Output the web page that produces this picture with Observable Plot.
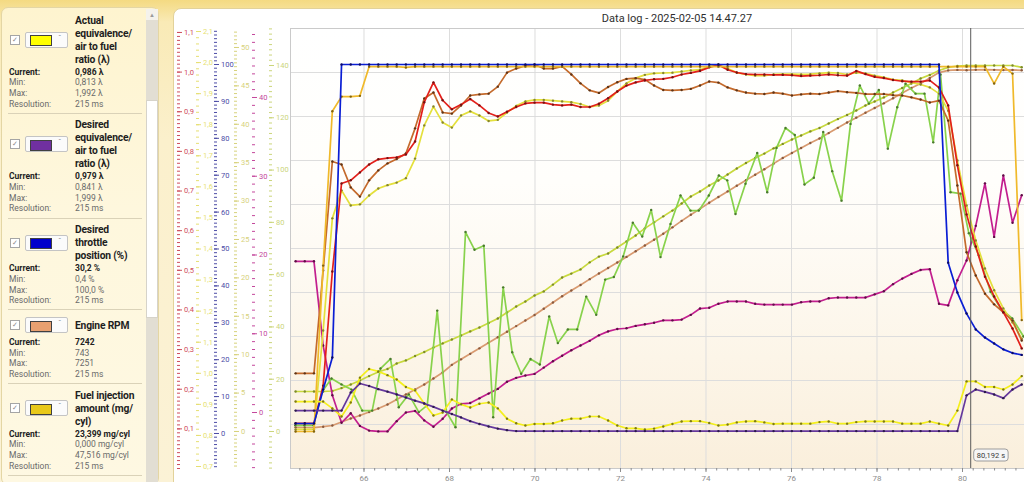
<!DOCTYPE html>
<html lang="en">
<head>
<meta charset="utf-8">
<title>Data log - 2025-02-05 14.47.27</title>
<script src="https://cdn.jsdelivr.net/npm/d3@7"></script>
<script src="https://cdn.jsdelivr.net/npm/@observablehq/plot@0.6"></script>
<style>
  html, body { margin: 0; padding: 0; }
  body {
    width: 1024px; height: 482px; overflow: hidden; position: relative;
    background: linear-gradient(to bottom, #F4DA82 0px, #F9EAB6 22px, #FBF0CC 140px, #FBF2D6 482px);
    font-family: Roboto, "Noto Sans", sans-serif;
  }
  #legendPanel {
    position: absolute; left: 1px; top: 7px; width: 158px; height: 478px; box-sizing: border-box;
    background: linear-gradient(to bottom, #FEF4CF 0px, #FEF7DD 200px, #FEF8E2 478px);
    border: 1px solid #E4D6A4; border-radius: 7px;
  }
  #legend { position: absolute; left: 0; top: 0; width: 160px; height: 482px; }
  .chk { position: absolute; left: 10px; width: 8px; height: 8px; border: 1px solid #A5A5A5; background: #fff;
         font-size: 7px; line-height: 8px; text-align: center; color: #8a8a8a; }
  .sw { position: absolute; left: 25px; width: 43px; height: 16px; box-sizing: border-box; border: 1px solid #C4C4C4;
        background: #FBFBFB; border-radius: 2px; }
  .swc { position: absolute; left: 4px; top: 2.5px; width: 20px; height: 9px; border: 1px solid #404040; }
  .dd { position: absolute; left: 32px; top: 1px; font-size: 8px; color: #8a8a8a; }
  .ttl { position: absolute; left: 75px; width: 80px; font-weight: 700; font-size: 10.3px; line-height: 13px;
         color: #1e1e1e; letter-spacing: -0.2px; white-space: nowrap; }
  .lab { position: absolute; left: 9px; font-size: 8.5px; line-height: 10.7px; color: #6a6a6a; white-space: nowrap; }
  .val { position: absolute; left: 75px; font-size: 8.5px; line-height: 10.7px; color: #6a6a6a; white-space: nowrap; }
  .lab.cur, .val.cur { font-weight: 700; color: #222; }
  .sep { position: absolute; left: 8px; width: 134px; height: 1px; background: #DAD2B8; }
  #scrollTrack { position: absolute; left: 146px; top: 9px; width: 12px; height: 473px; background: #E2DED3; }
  #scrollUp { position: absolute; left: 146px; top: 9px; width: 12px; height: 11px; background: #F4F2EC;
              font-size: 6px; line-height: 11px; text-align: center; color: #9a9a9a; }
  #scrollThumb { position: absolute; left: 146px; top: 100px; width: 12px; height: 218px; box-sizing: border-box;
                 background: #FFFFFF; border: 1px solid #D6D3CA; }
  #chartPanel {
    position: absolute; left: 173px; top: 8px; width: 880px; height: 500px; box-sizing: border-box;
    background: #FFFFFF; border: 1px solid #E2D29A; border-radius: 8px;
  }
  #plotBg {
    position: absolute; left: 290px; top: 28px; width: 734px; height: 440px;
    background: linear-gradient(to bottom, #FFFFFF 0%, #FFFEFB 35%, #FCF5E8 75%, #FAEFDC 100%);
  }
  #title {
    position: absolute; left: 290px; top: 12px; width: 774px; text-align: center;
    font-family: Roboto, "Noto Sans", sans-serif; font-size: 11px; line-height: 14px; color: #2e2e2e;
  }
  #layers { position: absolute; left: 0; top: 0; width: 1024px; height: 482px; }
</style>
</head>
<body>
<div id="legendPanel"></div>
<div id="legend"></div>
<div id="scrollTrack"></div>
<div id="scrollUp">&#9650;</div>
<div id="scrollThumb"></div>
<div id="chartPanel"></div>
<div id="plotBg"></div>
<div id="title">Data log - 2025-02-05 14.47.27</div>
<div id="layers"></div>

<script>
// ---------------- DATA ----------------
// Legend (channel list)
const legendNames = [
  "Actual\nequivalence/\nair to fuel\nratio (λ)",
  "Desired\nequivalence/\nair to fuel\nratio (λ)",
  "Desired\nthrottle\nposition (%)",
  "Engine RPM",
  "Fuel injection\namount (mg/\ncyl)"
];
const legendColors = ["#FFFF00", "#7030A0", "#0000CC", "#E8A070", "#E8C81A"];
const legendCurrent = ["0,986 λ", "0,979 λ", "30,2 %", "7242", "23,399 mg/cyl"];
const legendMin = ["0,813 λ", "0,841 λ", "0,4 %", "743", "0,000 mg/cyl"];
const legendMax = ["1,992 λ", "1,999 λ", "100,0 %", "7251", "47,516 mg/cyl"];
const legendResolution = ["215 ms", "215 ms", "215 ms", "215 ms", "215 ms"];

// Sample times (s), 215 ms resolution
const sampleTimes = [
  64.400, 64.615, 64.830, 65.045, 65.260, 65.475, 65.690, 65.905, 66.120, 66.335,
  66.550, 66.765, 66.980, 67.195, 67.410, 67.625, 67.840, 68.055, 68.270, 68.485,
  68.700, 68.915, 69.130, 69.345, 69.560, 69.775, 69.990, 70.205, 70.420, 70.635,
  70.850, 71.065, 71.280, 71.495, 71.710, 71.925, 72.140, 72.355, 72.570, 72.785,
  73.000, 73.215, 73.430, 73.645, 73.860, 74.075, 74.290, 74.505, 74.720, 74.935,
  75.150, 75.365, 75.580, 75.795, 76.010, 76.225, 76.440, 76.655, 76.870, 77.085,
  77.300, 77.515, 77.730, 77.945, 78.160, 78.375, 78.590, 78.805, 79.020, 79.235,
  79.450, 79.665, 79.880, 80.095, 80.310, 80.525, 80.740, 80.955, 81.170, 81.385
];

// Actual equivalence ratio (λ)
const actualLambda = [
  0.909, 0.909, 0.909, 0.909, 0.887, 0.861, 0.906, 0.986, 1.014, 1.006,
  0.994, 0.980, 0.956, 0.945, 0.903, 0.864, 0.874, 0.916, 0.900, 0.890,
  0.902, 0.906, 0.887, 0.854, 0.839, 0.832, 0.837, 0.837, 0.839, 0.848,
  0.854, 0.854, 0.861, 0.861, 0.848, 0.832, 0.823, 0.823, 0.819, 0.822,
  0.829, 0.837, 0.845, 0.846, 0.846, 0.840, 0.832, 0.835, 0.842, 0.845,
  0.846, 0.842, 0.837, 0.838, 0.838, 0.838, 0.838, 0.843, 0.845, 0.838,
  0.838, 0.843, 0.845, 0.845, 0.845, 0.845, 0.838, 0.838, 0.838, 0.845,
  0.838, 0.832, 0.880, 0.974, 0.974, 0.956, 0.956, 0.948, 0.964, 0.991
];

// Desired equivalence ratio (λ)
const desiredLambda = [
  0.880, 0.880, 0.880, 0.880, 0.880, 0.880, 0.938, 0.967, 0.959, 0.949,
  0.941, 0.932, 0.922, 0.912, 0.903, 0.892, 0.880, 0.869, 0.858, 0.846,
  0.837, 0.829, 0.822, 0.817, 0.814, 0.814, 0.814, 0.814, 0.814, 0.814,
  0.814, 0.814, 0.814, 0.814, 0.814, 0.814, 0.814, 0.814, 0.814, 0.814,
  0.814, 0.814, 0.814, 0.814, 0.814, 0.814, 0.814, 0.814, 0.814, 0.814,
  0.814, 0.814, 0.814, 0.814, 0.814, 0.814, 0.814, 0.814, 0.814, 0.814,
  0.814, 0.814, 0.814, 0.814, 0.814, 0.814, 0.814, 0.814, 0.814, 0.814,
  0.814, 0.814, 0.814, 0.929, 0.948, 0.940, 0.932, 0.920, 0.948, 0.964
];

// Desired throttle position (%)
const throttle = [
  2.7, 2.7, 2.7, 11.9, 20.6, 100, 100, 100, 100, 100,
  100, 100, 100, 100, 100, 100, 100, 100, 100, 100,
  100, 100, 100, 100, 100, 100, 100, 100, 100, 100,
  100, 100, 100, 100, 100, 100, 100, 100, 100, 100,
  100, 100, 100, 100, 100, 100, 100, 100, 100, 100,
  100, 100, 100, 100, 100, 100, 100, 100, 100, 100,
  100, 100, 100, 100, 100, 100, 100, 100, 100, 100,
  100, 46.3, 38.2, 32.5, 28.2, 26.0, 24.4, 22.8, 21.8, 21.3
];

// Engine RPM
const engineRpm = [
  748, 745, 743, 760, 782, 845, 909, 964, 1027, 1091,
  1164, 1254, 1345, 1436, 1527, 1636, 1745, 1885, 1985, 2085,
  2185, 2285, 2387, 2487, 2589, 2691, 2792, 2905, 3018, 3132,
  3236, 3336, 3443, 3545, 3645, 3745, 3847, 3949, 4054, 4160,
  4269, 4385, 4503, 4614, 4721, 4832, 4936, 5038, 5140, 5241,
  5341, 5441, 5543, 5645, 5736, 5827, 5919, 6001, 6098, 6194,
  6290, 6379, 6467, 6554, 6639, 6732, 6827, 6918, 7000, 7099,
  7199, 7238, 7247, 7242, 7249, 7251, 7248, 7244, 7246, 7240
];

// Fuel injection amount (mg/cyl)
const fuelInjection = [
  0.0, 0.0, 0.0, 21.6, 41.7, 43.6, 43.6, 43.7, 47.5, 47.5,
  47.5, 47.5, 47.4, 47.5, 47.5, 47.5, 47.5, 47.5, 47.5, 47.5,
  47.5, 47.5, 47.5, 47.5, 47.5, 47.5, 47.5, 47.5, 47.5, 47.5,
  47.5, 47.5, 47.5, 47.5, 47.5, 47.5, 47.5, 47.5, 47.5, 47.5,
  47.5, 47.5, 47.5, 47.5, 47.5, 47.5, 47.5, 47.5, 47.5, 47.5,
  47.5, 47.5, 47.5, 47.5, 47.5, 47.5, 47.5, 47.5, 47.5, 47.5,
  47.5, 47.5, 47.5, 47.5, 47.5, 47.5, 47.5, 47.5, 47.5, 47.5,
  47.5, 47.5, 47.5, 47.5, 47.5, 47.5, 45.3, 47.5, 46.6, 14.5
];

// Red trace (red 0–1,1 axis)
const redTrace = [
  0.114, 0.114, 0.114, 0.209, 0.497, 0.719, 0.727, 0.747, 0.767, 0.780,
  0.783, 0.785, 0.792, 0.825, 0.924, 0.974, 0.929, 0.906, 0.918, 0.932,
  0.916, 0.897, 0.888, 0.900, 0.912, 0.921, 0.923, 0.923, 0.918, 0.916,
  0.918, 0.912, 0.912, 0.920, 0.934, 0.951, 0.966, 0.974, 0.979, 0.982,
  0.983, 0.987, 0.994, 0.998, 1.003, 1.012, 1.018, 1.006, 0.999, 0.995,
  0.994, 0.994, 0.993, 0.993, 0.992, 0.990, 0.991, 0.992, 0.994, 0.992,
  0.991, 1.003, 0.995, 0.988, 0.985, 0.980, 0.977, 0.976, 0.976, 0.979,
  0.961, 0.916, 0.765, 0.641, 0.560, 0.484, 0.434, 0.394, 0.353, 0.303
];

// Brown trace (%)
const brownTrace = [
  16.3, 16.3, 16.3, 44.2, 73.7, 72.9, 66.7, 64.2, 68.6, 71.3,
  73.2, 74.4, 75.9, 82.7, 90.8, 92.4, 87.0, 86.7, 88.9, 91.6,
  91.9, 92.1, 94.0, 97.8, 98.9, 99.7, 100.0, 98.9, 98.9, 99.5,
  97.3, 94.9, 93.0, 92.3, 93.9, 95.2, 96.1, 96.3, 95.9, 94.3,
  93.1, 93.0, 93.1, 93.4, 94.3, 95.4, 95.1, 93.8, 93.0, 92.4,
  92.1, 92.0, 92.4, 92.1, 91.6, 91.9, 92.1, 92.0, 92.4, 92.8,
  92.5, 92.3, 92.0, 92.0, 92.0, 91.7, 91.6, 91.1, 90.5, 89.7,
  90.2, 84.8, 67.2, 49.1, 42.8, 37.9, 35.0, 32.8, 30.6, 25.2
];

// Pale yellow trace (%)
const paleYellowTrace = [
  1.1, 1.1, 1.1, 27.9, 58.3, 65.9, 61.8, 62.1, 64.5, 66.4,
  67.3, 68.0, 69.2, 74.5, 83.5, 88.6, 84.3, 82.9, 86.2, 87.3,
  86.2, 84.7, 85.0, 87.0, 88.8, 90.0, 90.4, 90.4, 90.2, 90.0,
  89.8, 89.3, 88.5, 88.9, 90.2, 92.7, 94.9, 96.3, 97.2, 97.6,
  97.7, 97.8, 98.1, 98.4, 98.6, 99.5, 100.0, 98.9, 97.8, 97.3,
  97.0, 97.0, 97.3, 97.4, 97.4, 97.3, 97.4, 97.6, 97.8, 97.7,
  97.3, 97.8, 97.6, 97.0, 96.5, 95.9, 95.7, 95.1, 94.6, 93.8,
  92.1, 87.5, 74.0, 61.8, 52.3, 44.7, 38.8, 33.9, 30.1, 25.7
];

// Yellow-green trace (0–140 axis)
const yellowGreenTrace = [
  15.3, 15.3, 15.3, 15.3, 15.5, 16.6, 18.0, 19.5, 21.2, 22.8,
  23.9, 26.0, 27.2, 28.9, 30.4, 32.1, 33.7, 35.2, 36.7, 38.3,
  39.8, 41.5, 43.2, 45.5, 47.8, 49.7, 52.0, 53.6, 56.2, 58.9,
  60.4, 62.0, 64.7, 66.9, 68.1, 70.4, 72.7, 75.0, 77.7, 80.0,
  82.3, 84.5, 87.2, 89.9, 91.8, 94.1, 96.0, 98.3, 100.6, 102.7,
  104.6, 106.3, 108.3, 110.0, 111.7, 113.2, 114.8, 116.1, 117.8, 119.5,
  121.1, 122.8, 124.7, 126.2, 127.8, 129.7, 131.4, 133.1, 135.0, 136.4,
  138.1, 139.3, 139.8, 140.0, 140.0, 140.0, 140.0, 140.0, 140.0, 139.3
];

// Magenta trace (magenta axis)
const magentaTrace = [
  19.2, 19.2, 19.2, 8.5, 2.2, -1.3, -0.1, -1.7, -2.3, -2.4,
  -2.4, -1.1, 0.0, 0.2, -1.0, -1.8, -0.8, 0.5, 1.1, 1.2,
  1.8, 2.4, 3.0, 3.9, 4.4, 4.7, 4.9, 5.7, 6.5, 7.2,
  7.9, 8.5, 9.1, 9.8, 10.3, 10.6, 10.7, 11.0, 11.2, 11.4,
  11.7, 11.7, 11.8, 12.4, 13.2, 13.3, 13.8, 14.1, 14.1, 14.1,
  13.8, 13.7, 13.7, 13.7, 13.7, 14.0, 14.1, 14.1, 14.5, 14.6,
  14.6, 14.6, 14.6, 15.0, 15.4, 16.3, 17.0, 17.6, 18.1, 18.2,
  13.8, 13.6, 16.8, 19.3, 23.7, 29.1, 22.3, 30.1, 24.1, 27.6
];

// Light green trace (%), logged on its own time stamps
const greenTimes = [
  64.391, 64.606, 64.821, 65.023, 65.240, 65.474, 65.708, 65.958, 66.192, 66.386,
  66.620, 66.814, 67.048, 67.282, 67.479, 67.713, 67.930, 68.141, 68.375, 68.585,
  68.803, 69.022, 69.256, 69.467, 69.677, 69.895, 70.113, 70.332, 70.534, 70.768,
  70.987, 71.198, 71.432, 71.642, 71.844, 72.063, 72.288, 72.508, 72.718, 72.936,
  73.170, 73.404, 73.638, 73.832, 74.066, 74.300, 74.496, 74.690, 74.924, 75.198,
  75.432, 75.649, 75.860, 76.077, 76.304, 76.522, 76.742, 76.952, 77.170, 77.380,
  77.598, 77.809, 78.042, 78.253, 78.473, 78.667, 78.901, 79.111, 79.315, 79.486,
  79.720, 79.954, 80.148, 80.382, 80.655, 80.889, 81.163, 81.427
];
const greenTrace = [
  2.2, 2.2, 2.2, 11.4, 14.9, 13.3, 11.9, 6.2, 6.2, 17.6,
  20.2, 7.1, 10.6, 5.8, 7.6, 33.3, 5.8, 1.7, 54.6, 49.8,
  50.9, 4.4, 39.6, 22.0, 16.2, 20.2, 18.7, 31.7, 24.5, 28.2,
  28.2, 37.1, 32.2, 41.7, 42.4, 48.0, 57.1, 53.4, 60.6, 47.8,
  56.8, 64.5, 60.4, 60.4, 64.5, 69.9, 68.6, 59.5, 67.7, 76.0,
  65.4, 77.4, 82.8, 80.9, 67.5, 69.3, 81.7, 71.1, 63.1, 83.9,
  94.3, 89.4, 93.1, 77.2, 88.4, 94.8, 92.1, 92.1, 78.9, 97.3,
  65.4, 65.0, 54.3, 48.3, 38.4, 33.9, 31.2, 26.3
];

const cursorTime = 80.192;
const xMajorTicks = [66, 68, 70, 72, 74, 76, 78, 80];

// ---------------- LEGEND ----------------
(function buildLegend() {
  const el = document.getElementById("legend");
  let html = "";
  let y = 13.5;
  legendNames.forEach((name, k) => {
    const lines = name.split("\n");
    const titleH = lines.length * 13;
    const blockH = Math.max(titleH, 21);
    const cy = y + blockH / 2;
    html += `<div class="chk" style="top:${cy - 5}px">&#10003;</div>`;
    html += `<div class="sw" style="top:${cy - 8}px"><div class="swc" style="background:${legendColors[k]}"></div><span class="dd">&#711;</span></div>`;
    html += `<div class="ttl" style="top:${y + (blockH - titleH) / 2}px">${lines.join("<br>")}</div>`;
    let sy = y + blockH + 1;
    const rows = [["Current:", legendCurrent[k], true], ["Min:", legendMin[k]], ["Max:", legendMax[k]], ["Resolution:", legendResolution[k]]];
    rows.forEach(([lab, val, cur], r) => {
      html += `<div class="lab${cur ? " cur" : ""}" style="top:${sy + r * 10.7}px">${lab}</div>`;
      html += `<div class="val${cur ? " cur" : ""}" style="top:${sy + r * 10.7}px">${val}</div>`;
    });
    const sepY = sy + 4 * 10.7 + 3.5;
    html += `<div class="sep" style="top:${sepY}px"></div>`;
    y = sepY + 5.5;
  });
  el.innerHTML = html;
})();

// ---------------- CHART ----------------
const W = 1024, H = 482;
const MT = 28, MB = 14, ML = 290, MR = 0;
const xDomain = [64.281, 81.45];
const FONT = "Roboto, 'Noto Sans', sans-serif";
const layers = document.getElementById("layers");

const scales = {
  red:    [0, 1.110],
  lambda: [0.6936, 2.1097],
  pct:    [-9.49, 109.76],
  fuel:   [-4.82, 52.47],
  mag:    [-7.11, 48.76],
  yg:     [-14.15, 154.15],
  rpm:    [0, 8000]
};

function st(extra) {
  return Object.assign({position: "absolute", left: "0px", top: "0px", background: "transparent",
    overflow: "visible", fontFamily: FONT}, extra || {});
}

function seriesLayer(yDomain, list) {
  const marks = [];
  for (const s of list) {
    const data = s.times.map((t, i) => ({t, v: s.values[i]}));
    marks.push(Plot.line(data, {x: "t", y: "v", stroke: s.color, strokeWidth: 1.7, strokeLinejoin: "round"}));
    marks.push(Plot.dot(data, {x: "t", y: "v", r: 1.2, fill: s.dot}));
  }
  return Plot.plot({width: W, height: H, marginTop: MT, marginBottom: MB, marginLeft: ML, marginRight: MR,
    x: {domain: xDomain, axis: null}, y: {domain: yDomain, axis: null}, style: st(), marks});
}

const comma1 = d => d3.format(".1f")(d).replace(".", ",");
const int = d => d3.format("d")(d);

function axisLayer(def) {
  return Plot.plot({width: W, height: H, marginTop: MT, marginBottom: MB, marginLeft: 0, marginRight: W - def.tickX,
    y: {domain: def.domain, axis: null},
    style: st({color: def.color, fontSize: "7.5px"}),
    marks: [
      Plot.axisY({ticks: def.minor, anchor: "right", tickSize: 3, tickFormat: () => "", label: null}),
      Plot.axisY({ticks: def.major, anchor: "right", tickSize: 5, tickPadding: 2.5, tickFormat: def.format, label: null})
    ]});
}

// Base: grid, frame, time axis
const base = Plot.plot({width: W, height: H, marginTop: MT, marginBottom: MB, marginLeft: ML, marginRight: MR,
  x: {domain: xDomain}, y: {domain: [0, 10], axis: null},
  style: st({color: "#8C8C8C", fontSize: "8px"}),
  marks: [
    Plot.gridY({ticks: d3.range(1, 10), stroke: "#DDDDDD", strokeOpacity: 1}),
    Plot.gridX({ticks: xMajorTicks, stroke: "#DDDDDD", strokeOpacity: 1}),
    Plot.ruleX([xDomain[0]], {stroke: "#CACACA"}),
    Plot.ruleY([0, 10], {stroke: "#CACACA"}),
    Plot.axisX({ticks: d3.range(64.5, 81.5, 0.25), tickSize: 2.5, tickFormat: () => "", label: null}),
    Plot.axisX({ticks: xMajorTicks, tickSize: 4, tickPadding: 2.5, tickFormat: d => String(d), label: null})
  ]});
layers.appendChild(base);

const S = (times, values, color, dot) => ({times, values, color, dot});

layers.appendChild(seriesLayer(scales.yg,  [S(sampleTimes, yellowGreenTrace, "#C8D93E", "#7D8A2A")]));
layers.appendChild(seriesLayer(scales.rpm, [S(sampleTimes, engineRpm, "#D89A70", "#8A5A3E")]));
layers.appendChild(seriesLayer(scales.mag, [S(sampleTimes, magentaTrace, "#C21E8E", "#5E0E46")]));
layers.appendChild(seriesLayer(scales.pct, [
  S(greenTimes, greenTrace, "#88D24C", "#4A7A2E"),
  S(sampleTimes, paleYellowTrace, "#E4E03C", "#85852E"),
  S(sampleTimes, brownTrace, "#C46A2C", "#5E3416")
]));
layers.appendChild(seriesLayer(scales.red, [S(sampleTimes, redTrace, "#E2201B", "#761010")]));
layers.appendChild(seriesLayer(scales.fuel, [S(sampleTimes, fuelInjection, "#F0B92A", "#82640E")]));
layers.appendChild(seriesLayer(scales.pct, [S(sampleTimes, throttle, "#0A1ED4", "#0A0A66")]));
layers.appendChild(seriesLayer(scales.lambda, [
  S(sampleTimes, actualLambda, "#F4EF1C", "#7E7A14"),
  S(sampleTimes, desiredLambda, "#65389C", "#2C1A4C")
]));

// Y axes
const axisDefs = [
  {domain: scales.red,    tickX: 176, color: "#CF4E5E", major: d3.range(1, 12).map(k => k / 10), minor: d3.range(0, 111).map(k => k / 100), format: comma1},
  {domain: scales.lambda, tickX: 195, color: "#E6DF72", major: d3.range(7, 22).map(k => k / 10), minor: d3.range(35, 106).map(k => k / 50), format: comma1},
  {domain: scales.pct,    tickX: 213, color: "#4C4CA6", major: d3.range(0, 101, 10), minor: d3.range(-9, 110, 1), format: int},
  {domain: scales.fuel,   tickX: 233, color: "#D7D27C", major: d3.range(0, 51, 5), minor: d3.range(-9, 105).map(k => k / 2), format: int},
  {domain: scales.mag,    tickX: 251, color: "#C4479C", major: d3.range(0, 41, 10), minor: d3.range(-7, 49, 1), format: int},
  {domain: scales.yg,     tickX: 268, color: "#CBD57C", major: d3.range(0, 141, 20), minor: d3.range(-14, 155, 2), format: int}
];
for (const def of axisDefs) layers.appendChild(axisLayer(def));

// Cursor
const cursor = Plot.plot({width: W, height: H, marginTop: MT, marginBottom: MB, marginLeft: ML, marginRight: MR,
  x: {domain: xDomain, axis: null}, y: {domain: [0, 10], axis: null},
  style: st({fontSize: "7.5px"}),
  marks: [
    Plot.ruleX([cursorTime], {stroke: "#5A5A5A", strokeWidth: 1}),
    Plot.text([cursorTime], {x: d => d, frameAnchor: "bottom", dy: -11, dx: 6, textAnchor: "start", fill: "#3A3A3A",
      text: d => d3.format(".3f")(d).replace(".", ",") + " s"})
  ]});
layers.appendChild(cursor);
(function boxLabel() {
  const txt = cursor.querySelector("g[aria-label='text'] text");
  if (!txt) return;
  const bb = txt.getBBox();
  const r = document.createElementNS("http://www.w3.org/2000/svg", "rect");
  r.setAttribute("x", bb.x - 3);
  r.setAttribute("y", bb.y - 1.5);
  r.setAttribute("width", bb.width + 6);
  r.setAttribute("height", bb.height + 3);
  r.setAttribute("rx", 3);
  r.setAttribute("fill", "#F6F6F6");
  r.setAttribute("stroke", "#9C9C9C");
  const tr = txt.getAttribute("transform");
  if (tr) r.setAttribute("transform", tr);
  txt.parentNode.insertBefore(r, txt);
})();
</script>
</body>
</html>
